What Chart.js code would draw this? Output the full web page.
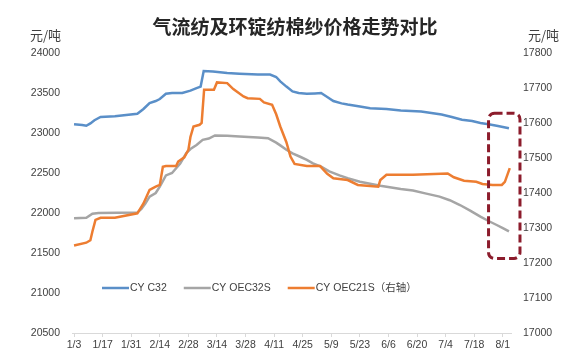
<!DOCTYPE html>
<html>
<head>
<meta charset="utf-8">
<script src="https://cdn.jsdelivr.net/npm/chart.js@4.4.1/dist/chart.umd.min.js"></script>
<style>
  html, body { margin: 0; padding: 0; background: #fff; }
</style>
</head>
<body>
<canvas id="chart" width="573" height="357"></canvas>
<script>
// Days counted from 1/3
const tickDays = [0, 14, 28, 42, 56, 70, 84, 98, 112, 126, 140, 154, 168, 182, 196, 210];
const tickLabels = ['1/3', '1/17', '1/31', '2/14', '2/28', '3/14', '3/28', '4/11', '4/25', '5/9', '5/23', '6/6', '6/20', '7/4', '7/18', '8/1'];

const seriesNames = ['CY C32', 'CY OEC32S', 'CY OEC21S（右轴）'];

// CY C32 (left axis)
const c32Days = [0, 4, 6, 8, 10, 13, 20, 31, 34, 37, 40, 42, 45, 48, 53, 57, 60, 62, 63.5, 68, 75, 81, 90, 96, 99, 101, 104, 107, 110, 114, 118, 121, 124, 127, 131, 134, 140, 145, 153, 160, 170, 175, 180, 185, 190, 195, 199, 203, 207, 210, 213];
const c32Values = [23110, 23100, 23090, 23120, 23160, 23200, 23210, 23240, 23300, 23375, 23400, 23425, 23490, 23500, 23500, 23530, 23560, 23580, 23775, 23770, 23750, 23740, 23730, 23730, 23700, 23645, 23580, 23520, 23500, 23490, 23495, 23500, 23450, 23400, 23370, 23355, 23330, 23310, 23300, 23280, 23270, 23250, 23230, 23200, 23165, 23150, 23125, 23110, 23090, 23075, 23060];

// CY OEC32S (left axis)
const oec32Days = [0, 6, 9, 12, 31, 33, 35, 37, 40, 42, 45, 48, 50, 52, 55, 57, 60, 63, 66, 69, 75, 81, 90, 95, 99, 101, 104, 107, 111, 114, 117, 121, 125, 130, 134, 140, 150, 160, 166, 172, 179, 184, 189, 194, 199, 203, 207, 210, 213];
const oec32Values = [21935, 21940, 21990, 22000, 22005, 22050, 22120, 22205, 22250, 22330, 22470, 22500, 22560, 22620, 22750, 22800, 22850, 22915, 22930, 22970, 22965, 22955, 22945, 22935, 22880, 22845, 22790, 22745, 22700, 22665, 22620, 22580, 22520, 22470, 22435, 22390, 22340, 22300, 22280, 22245, 22205, 22160, 22100, 22030, 21955, 21900, 21850, 21810, 21770];

// CY OEC21S (right axis)
const oec21Days = [0, 6, 8, 9, 10.5, 13, 20, 31, 34, 37, 40, 42, 43.5, 45, 50, 51, 54, 56, 57, 58.5, 61.5, 62.5, 63.7, 68.5, 70, 75, 78, 83, 85, 91, 93, 97, 99, 101, 104, 106, 108, 114, 120.5, 124, 127, 134, 139, 149, 150, 153, 166, 183, 186, 191, 197, 200, 205, 209.5, 211, 213.4];
const oec21Values = [17250, 17258, 17265, 17290, 17323, 17329, 17329, 17342, 17370, 17409, 17418, 17423, 17475, 17477, 17477, 17490, 17502, 17523, 17560, 17590, 17595, 17600, 17695, 17695, 17716, 17714, 17697, 17676, 17671, 17669, 17659, 17652, 17625, 17590, 17545, 17504, 17483, 17477, 17477, 17455, 17442, 17437, 17423, 17418, 17437, 17452, 17452, 17456, 17445, 17435, 17432, 17426, 17423, 17423, 17432, 17471];

const colors = ['#5a8fc8', '#a5a5a5', '#ed7d31'];
const textColor = '#404040';
const latinFont = '"Liberation Sans", "Noto Sans CJK SC", sans-serif';

function toPoints(days, values) {
    return days.map((d, i) => ({ x: d, y: values[i] }));
}

// Title, unit labels, in-plot legend and the dashed highlight box
const decorations = {
    id: 'decorations',
    afterDraw(chart) {
        const ctx = chart.ctx;
        const area = chart.chartArea;
        ctx.save();

        ctx.fillStyle = '#262626';
        ctx.font = 'bold 19px "Noto Sans CJK SC", sans-serif';
        ctx.textAlign = 'center';
        ctx.textBaseline = 'middle';
        ctx.fillText('气流纺及环锭纺棉纱价格走势对比', 295, 27);

        ctx.fillStyle = textColor;
        ctx.font = '13px "Noto Sans CJK SC", sans-serif';
        ctx.textAlign = 'right';
        ctx.fillText('元/吨', area.left - 11, 35);
        ctx.textAlign = 'left';
        ctx.fillText('元/吨', area.right + 17, 35);

        // legend
        ctx.font = '10.5px ' + latinFont;
        let x = 102;
        const y = 288;
        seriesNames.forEach((name, i) => {
            ctx.strokeStyle = colors[i];
            ctx.lineWidth = 2.5;
            ctx.beginPath();
            ctx.moveTo(x, y);
            ctx.lineTo(x + 27, y);
            ctx.stroke();
            ctx.fillStyle = textColor;
            ctx.textAlign = 'left';
            ctx.fillText(name, x + 28, y);
            x += 28 + ctx.measureText(name).width + 17;
        });

        // dashed box around the latest values
        const xs = chart.scales.x;
        const yr = chart.scales.yR;
        const bx0 = xs.getPixelForValue(203);
        const bx1 = xs.getPixelForValue(218.4);
        const by0 = yr.getPixelForValue(17628);
        const by1 = yr.getPixelForValue(17213);
        ctx.strokeStyle = '#8c1c2c';
        ctx.lineWidth = 3;
        ctx.setLineDash([8, 4]);
        ctx.beginPath();
        ctx.roundRect(bx0, by0, bx1 - bx0, by1 - by0, 6);
        ctx.stroke();

        ctx.restore();
    }
};

const plainNumber = (value) => String(value);

const ctx = document.getElementById('chart').getContext('2d');
const priceChart = new Chart(ctx, {
    type: 'line',
    data: {
        datasets: [
            { label: seriesNames[0], data: toPoints(c32Days, c32Values), yAxisID: 'yL', borderColor: colors[0], order: 2 },
            { label: seriesNames[1], data: toPoints(oec32Days, oec32Values), yAxisID: 'yL', borderColor: colors[1], order: 1 },
            { label: seriesNames[2], data: toPoints(oec21Days, oec21Values), yAxisID: 'yR', borderColor: colors[2], order: 0 },
        ],
    },
    options: {
        responsive: false,
        animation: false,
        devicePixelRatio: 1,
        layout: { padding: { top: 53, bottom: 0, left: 0, right: 0 } },
        elements: {
            line: { borderWidth: 2.5, tension: 0, fill: false },
            point: { radius: 0 },
        },
        plugins: {
            legend: { display: false },
            title: { display: false },
            tooltip: { enabled: false },
        },
        scales: {
            x: {
                type: 'linear',
                min: -1,
                max: 214,
                afterBuildTicks: (axis) => { axis.ticks = tickDays.map(v => ({ value: v })); },
                afterFit: (axis) => { axis.height = 24; },
                ticks: {
                    callback: (value, index) => tickLabels[index],
                    autoSkip: false,
                    maxRotation: 0,
                    padding: 2,
                    color: textColor,
                    font: { family: latinFont, size: 10.5 },
                },
                grid: { display: true, drawOnChartArea: false, tickLength: 4, color: '#d9d9d9' },
                border: { color: '#d9d9d9' },
            },
            yL: {
                position: 'left',
                min: 20500,
                max: 24000,
                afterFit: (axis) => { axis.width = 72; },
                ticks: { stepSize: 500, padding: 12, color: textColor, callback: plainNumber, font: { family: latinFont, size: 10.5 } },
                grid: { display: false, drawTicks: false },
                border: { display: false },
            },
            yR: {
                position: 'right',
                min: 17000,
                max: 17800,
                afterFit: (axis) => { axis.width = 62; },
                ticks: { stepSize: 100, padding: 12, color: textColor, callback: plainNumber, font: { family: latinFont, size: 10.5 } },
                grid: { display: false, drawTicks: false },
                border: { display: false },
            },
        },
    },
    plugins: [decorations],
});
</script>
</body>
</html>
